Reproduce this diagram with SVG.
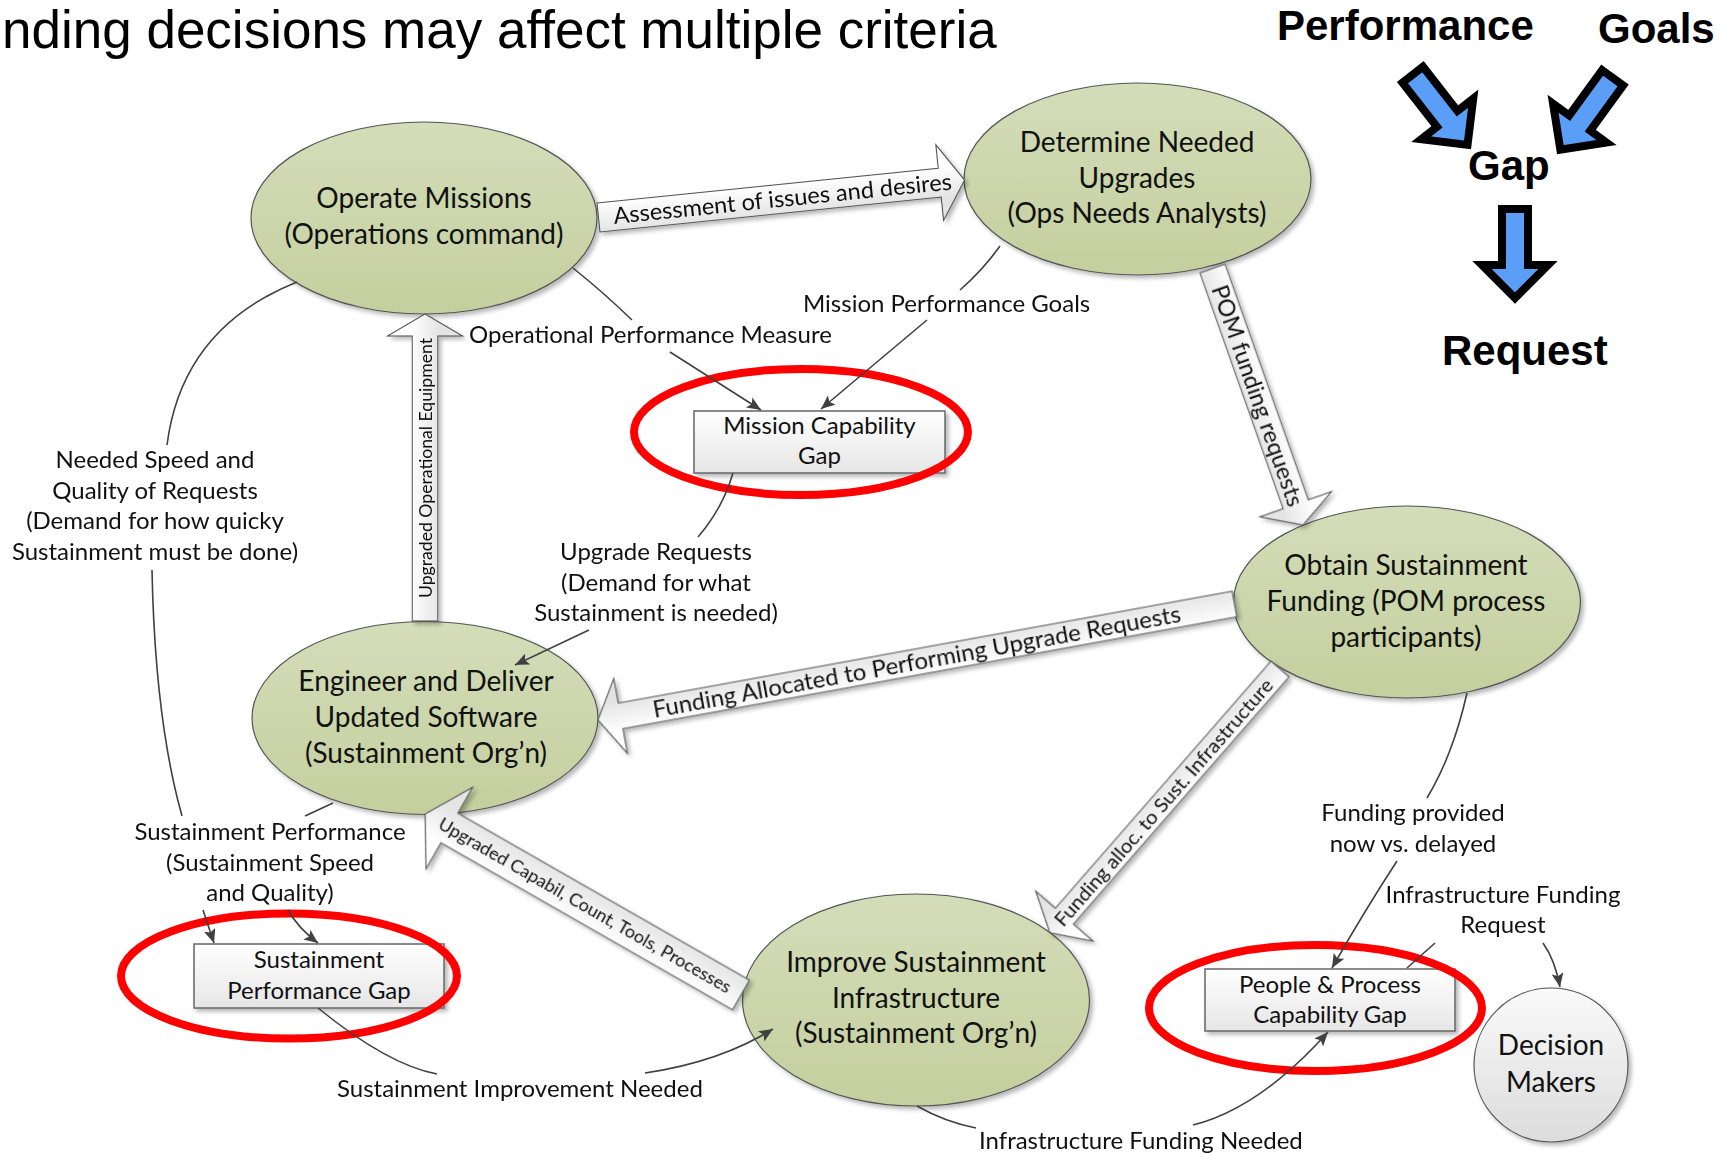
<svg xmlns="http://www.w3.org/2000/svg" width="1729" height="1155" viewBox="0 0 1729 1155">
  <defs>
    <linearGradient id="gGreen" x1="0" y1="0" x2="0" y2="1">
      <stop offset="0" stop-color="#D4DDB9"/>
      <stop offset="1" stop-color="#C4CF9E"/>
    </linearGradient>
    <linearGradient id="gBox" x1="0" y1="0" x2="0" y2="1">
      <stop offset="0" stop-color="#FFFFFF"/>
      <stop offset="1" stop-color="#E6E6E6"/>
    </linearGradient>
    <linearGradient id="gGray" x1="0" y1="0" x2="0" y2="1">
      <stop offset="0" stop-color="#FAFAFA"/>
      <stop offset="1" stop-color="#DCDCDC"/>
    </linearGradient>
    <linearGradient id="gArrow" x1="0" y1="0" x2="0" y2="1">
      <stop offset="0.3" stop-color="#FFFFFF"/>
      <stop offset="0.7" stop-color="#E4E4E4"/>
    </linearGradient>
    <filter id="shadow" x="-10%" y="-10%" width="130%" height="130%">
      <feDropShadow dx="3" dy="3" stdDeviation="2" flood-color="#000" flood-opacity="0.28"/>
    </filter>
    <marker id="tip" markerUnits="userSpaceOnUse" markerWidth="15" markerHeight="12" refX="14" refY="6" orient="auto">
      <path d="M0,0 L14,6 L0,12 L3,6 Z" fill="#404040"/>
    </marker>
    <style>
      .node ellipse { fill: url(#gGreen); stroke: #555; stroke-width: 1.2; }
      .box rect { fill: url(#gBox); stroke: #666; stroke-width: 1.5; }
      .ring { fill: none; stroke: #FF0000; stroke-width: 8; }
      .ntxt { font-family: Lato, "Open Sans", sans-serif; font-size: 28px; fill: #111; text-anchor: middle; }
      .btxt { font-family: Lato, "Open Sans", sans-serif; font-size: 24px; fill: #111; text-anchor: middle; }
      .lbl { font-family: Lato, "Open Sans", sans-serif; font-size: 24px; fill: #111; }
      .mid { text-anchor: middle; }
      .blk path { fill: url(#gArrow); stroke: #555; stroke-width: 1.1; }
      .blk text { font-family: Lato, "Open Sans", sans-serif; fill: #111; text-anchor: middle; }
      .thin path { fill: none; stroke: #404040; stroke-width: 1.6; }
      .big { font-family: "Liberation Sans", Arial, sans-serif; font-weight: bold; font-size: 42px; fill: #000; }
      .blue { fill: #5B9EF8; stroke: #000; stroke-width: 8; stroke-linejoin: miter; stroke-miterlimit: 10; }
    </style>
  </defs>

  <rect width="1729" height="1155" fill="#FFFFFF"/>

  <!-- heading -->
  <text x="2" y="48" font-family="Liberation Sans, Arial, sans-serif" font-size="53" fill="#000">nding decisions may affect multiple criteria</text>

  <!-- legend: performance and goals lead to a gap, which leads to a request -->
  <g id="legend">
    <text class="big" x="1277" y="40">Performance</text>
    <text class="big" x="1598" y="43">Goals</text>
    <text class="big" x="1468" y="180">Gap</text>
    <text class="big" x="1442" y="365">Request</text>
    <path class="blue" transform="translate(1470,148) rotate(-38)" d="M-13,-93 L13,-93 L13,-37 L33,-37 L0,-4 L-33,-37 L-13,-37 Z"/>
    <path class="blue" transform="translate(1558,153) rotate(36)" d="M-13,-93 L13,-93 L13,-37 L33,-37 L0,-4 L-33,-37 L-13,-37 Z"/>
    <path class="blue" transform="translate(1515,302)" d="M-13,-93 L13,-93 L13,-37 L33,-37 L0,-4 L-33,-37 L-13,-37 Z"/>
  </g>

  <!-- process nodes -->
  <g id="operate-missions" class="node">
    <ellipse cx="424" cy="218" rx="173" ry="96" filter="url(#shadow)"/>
    <text class="ntxt" x="424" y="208">Operate Missions</text>
    <text class="ntxt" x="424" y="244">(Operations command)</text>
  </g>
  <g id="determine-upgrades" class="node">
    <ellipse cx="1137.5" cy="179" rx="173.5" ry="96" filter="url(#shadow)"/>
    <text class="ntxt" x="1137" y="152">Determine Needed</text>
    <text class="ntxt" x="1137" y="188">Upgrades</text>
    <text class="ntxt" x="1137" y="223">(Ops Needs Analysts)</text>
  </g>
  <g id="obtain-funding" class="node">
    <ellipse cx="1407" cy="602" rx="173.5" ry="96" filter="url(#shadow)"/>
    <text class="ntxt" x="1406" y="575">Obtain Sustainment</text>
    <text class="ntxt" x="1406" y="611">Funding (POM process</text>
    <text class="ntxt" x="1406" y="647">participants)</text>
  </g>
  <g id="engineer-deliver" class="node">
    <ellipse cx="425" cy="718" rx="173" ry="96.5" filter="url(#shadow)"/>
    <text class="ntxt" x="426" y="691">Engineer and Deliver</text>
    <text class="ntxt" x="426" y="727">Updated Software</text>
    <text class="ntxt" x="426" y="763">(Sustainment Org’n)</text>
  </g>
  <g id="improve-infrastructure" class="node">
    <ellipse cx="916" cy="1000" rx="173.5" ry="106" filter="url(#shadow)"/>
    <text class="ntxt" x="916" y="972">Improve Sustainment</text>
    <text class="ntxt" x="916" y="1008">Infrastructure</text>
    <text class="ntxt" x="916" y="1043">(Sustainment Org’n)</text>
  </g>
  <g id="decision-makers">
    <circle cx="1551" cy="1065" r="77" fill="url(#gGray)" stroke="#555" stroke-width="1.2" filter="url(#shadow)"/>
    <text class="ntxt" x="1551" y="1055">Decision</text>
    <text class="ntxt" x="1551" y="1092">Makers</text>
  </g>

  <!-- capability gaps -->
  <g id="mission-capability-gap" class="box">
    <rect x="694" y="411" width="251" height="62" filter="url(#shadow)"/>
    <text class="btxt" x="819.5" y="434">Mission Capability</text>
    <text class="btxt" x="819.5" y="464">Gap</text>
    <ellipse class="ring" cx="801" cy="432" rx="167" ry="63"/>
  </g>
  <g id="sustainment-performance-gap" class="box">
    <rect x="194" y="944" width="250" height="64" filter="url(#shadow)"/>
    <text class="btxt" x="319" y="968">Sustainment</text>
    <text class="btxt" x="319" y="999">Performance Gap</text>
    <ellipse class="ring" cx="289" cy="976" rx="168" ry="62.5"/>
  </g>
  <g id="people-process-gap" class="box">
    <rect x="1205" y="969" width="250" height="62" filter="url(#shadow)"/>
    <text class="btxt" x="1330" y="993">People &amp; Process</text>
    <text class="btxt" x="1330" y="1023">Capability Gap</text>
    <ellipse class="ring" cx="1315.5" cy="1008" rx="166.5" ry="63"/>
  </g>

  <!-- connectors -->
  <g id="connectors">
    <!-- flow arrows between processes -->
    <g class="blk" filter="url(#shadow)">
      <g transform="translate(598.5,217.5) rotate(-5.84)">
        <path d="M0,-14.5 L343,-14.5 L343,-38 L368,0 L343,38 L343,14.5 L0,14.5 Z"/>
        <text x="185" y="8" font-size="23" textLength="340" lengthAdjust="spacingAndGlyphs">Assessment of issues and desires</text>
      </g>
      <g transform="translate(1212.5,268.5) rotate(70.56)">
        <path d="M0,-13.3 L250,-13.3 L250,-38 L272,0 L250,38 L250,13.3 L0,13.3 Z"/>
        <text x="135" y="8" font-size="23" textLength="233" lengthAdjust="spacingAndGlyphs">POM funding requests</text>
      </g>
      <g transform="translate(1234.5,604) rotate(169.67)">
        <path d="M0,-13 L624,-13 L624,-38 L647,0 L624,38 L624,13 L0,13 Z"/>
        <text transform="rotate(180 323 0)" x="323" y="8" font-size="23" textLength="536" lengthAdjust="spacingAndGlyphs">Funding Allocated to Performing Upgrade Requests</text>
      </g>
      <g transform="translate(425,621) rotate(-90)">
        <path d="M0,-12.8 L285,-12.8 L285,-37.5 L307,0 L285,37.5 L285,12.8 L0,12.8 Z"/>
        <text x="153" y="6.5" font-size="18" textLength="260" lengthAdjust="spacingAndGlyphs">Upgraded Operational Equipment</text>
      </g>
      <g transform="translate(1280,669) rotate(131.1)">
        <path d="M0,-12 L328,-12 L328,-38 L350,0 L328,38 L328,12 L0,12 Z"/>
        <text transform="rotate(180 177 0)" x="177" y="7" font-size="20" textLength="321" lengthAdjust="spacingAndGlyphs">Funding alloc. to Sust. Infrastructure</text>
      </g>
      <g transform="translate(741,995) rotate(-150.2)">
        <path d="M0,-17 L336,-17 L336,-47 L364,0 L336,47 L336,17 L0,17 Z"/>
        <text transform="rotate(180 180 0)" x="180" y="6.5" font-size="18" textLength="334" lengthAdjust="spacingAndGlyphs">Upgraded Capabil, Count, Tools, Processes</text>
      </g>
    </g>

    <!-- measure / goal / demand lines -->
    <g class="thin">
      <path d="M573,268 Q603,292 632,320"/>
      <path d="M670,352 L761,410" marker-end="url(#tip)"/>
      <path d="M1000,246 Q983,270 960,290"/>
      <path d="M927,320 L821,409" marker-end="url(#tip)"/>
      <path d="M733,473 Q723,508 698,537"/>
      <path d="M589,630 L515,665" marker-end="url(#tip)"/>
      <path d="M297,282 Q182,328 167,445"/>
      <path d="M152,570 Q155,720 182,816"/>
      <path d="M333,803 L305,816"/>
      <path d="M203,910 L214,943" marker-end="url(#tip)"/>
      <path d="M288,910 Q298,928 318,943" marker-end="url(#tip)"/>
      <path d="M318,1008 Q388,1065 437,1074"/>
      <path d="M645,1073 Q720,1062 773,1029" marker-end="url(#tip)"/>
      <path d="M917,1106 Q945,1122 976,1128"/>
      <path d="M1193,1125 Q1260,1108 1328,1032" marker-end="url(#tip)"/>
      <path d="M1467,693 Q1453,755 1427,798"/>
      <path d="M1397,861 Q1365,910 1332,968" marker-end="url(#tip)"/>
      <path d="M1407,968 L1435,943"/>
      <path d="M1543,943 Q1555,960 1560,987" marker-end="url(#tip)"/>
    </g>

    <!-- line labels -->
    <g id="line-labels">
      <text class="lbl" x="469" y="343">Operational Performance Measure</text>
      <text class="lbl" x="803" y="312">Mission Performance Goals</text>
      <text class="lbl mid" x="656" y="560">Upgrade Requests</text>
      <text class="lbl mid" x="656" y="591">(Demand for what</text>
      <text class="lbl mid" x="656" y="621">Sustainment is needed)</text>
      <text class="lbl mid" x="155" y="468">Needed Speed and</text>
      <text class="lbl mid" x="155" y="499">Quality of Requests</text>
      <text class="lbl mid" x="155" y="529">(Demand for how quicky</text>
      <text class="lbl mid" x="155" y="560">Sustainment must be done)</text>
      <text class="lbl mid" x="270" y="840">Sustainment Performance</text>
      <text class="lbl mid" x="270" y="871">(Sustainment Speed</text>
      <text class="lbl mid" x="270" y="901">and Quality)</text>
      <text class="lbl" x="337" y="1097">Sustainment Improvement Needed</text>
      <text class="lbl" x="979" y="1149">Infrastructure Funding Needed</text>
      <text class="lbl mid" x="1413" y="821">Funding provided</text>
      <text class="lbl mid" x="1413" y="852">now vs. delayed</text>
      <text class="lbl mid" x="1503" y="903">Infrastructure Funding</text>
      <text class="lbl mid" x="1503" y="933">Request</text>
    </g>
  </g>
</svg>
